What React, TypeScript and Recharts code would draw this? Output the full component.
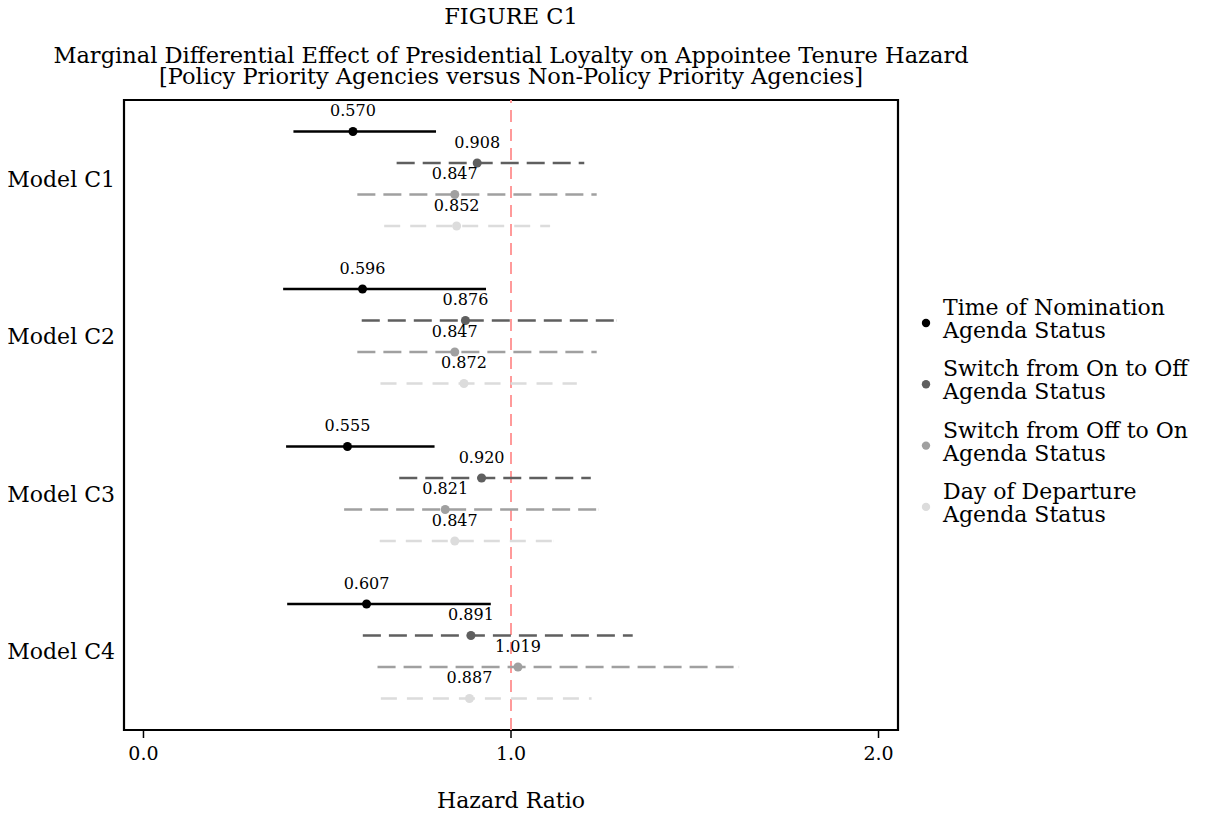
import React from "react";
import {
  ScatterChart,
  Scatter,
  XAxis,
  YAxis,
  ErrorBar,
  ReferenceLine,
  ReferenceArea,
  Legend,
  Label,
} from "recharts";

// ---------- data ----------
const models = ["Model C1", "Model C2", "Model C3", "Model C4"];

const seriesNames = [
  "Time of Nomination\nAgenda Status",
  "Switch from On to Off\nAgenda Status",
  "Switch from Off to On\nAgenda Status",
  "Day of Departure\nAgenda Status",
];

const nominationEst = [0.57, 0.596, 0.555, 0.607];
const nominationLow = [0.408, 0.38, 0.388, 0.391];
const nominationHigh = [0.796, 0.932, 0.792, 0.945];

const onToOffEst = [0.908, 0.876, 0.92, 0.891];
const onToOffLow = [0.689, 0.594, 0.696, 0.597];
const onToOffHigh = [1.199, 1.288, 1.217, 1.331];

const offToOnEst = [0.847, 0.847, 0.821, 1.019];
const offToOnLow = [0.582, 0.582, 0.546, 0.637];
const offToOnHigh = [1.233, 1.233, 1.237, 1.62];

const departureEst = [0.852, 0.872, 0.847, 0.887];
const departureLow = [0.655, 0.645, 0.643, 0.646];
const departureHigh = [1.106, 1.179, 1.115, 1.219];

const xTicks = [0, 1, 2];
const xTickLabels = ["0.0", "1.0", "2.0"];
const referenceValue = 1;

const titleLines = [
  "FIGURE C1",
  "Marginal Differential Effect of Presidential Loyalty on Appointee Tenure Hazard",
  "[Policy Priority Agencies versus Non-Policy Priority Agencies]",
];
const xAxisTitle = "Hazard Ratio";

// ---------- styling ----------
const FONT = "'DejaVu Serif', serif";
const colors = ["#000000", "#5f5f5f", "#a0a0a0", "#dcdcdc"];
const dashes = ["", "18 8", "18 8", "16 10"];
const X_DOMAIN: [number, number] = [-0.053, 2.053];
const Y_DOMAIN: [number, number] = [0, 20];
const ROWS_PER_MODEL = 5;

const allSeries = [
  { est: nominationEst, low: nominationLow, high: nominationHigh },
  { est: onToOffEst, low: onToOffLow, high: onToOffHigh },
  { est: offToOnEst, low: offToOnLow, high: offToOnHigh },
  { est: departureEst, low: departureLow, high: departureHigh },
];

const seriesData = allSeries.map((s, si) =>
  models.map((m, mi) => ({
    model: m,
    x: s.est[mi],
    y: mi * ROWS_PER_MODEL + si + 1,
    err: [s.est[mi] - s.low[mi], s.high[mi] - s.est[mi]],
  }))
);

const modelTicks = models.map((_, i) => i * ROWS_PER_MODEL + 2.5);

const makeShape = (color: string) => (props: any) => {
  const { cx, cy, payload } = props;
  if (cx == null || cy == null) return <g />;
  return (
    <g>
      <circle cx={cx} cy={cy} r={4.5} fill={color} />
      <text
        x={cx}
        y={cy - 15.5}
        textAnchor="middle"
        fontFamily={FONT}
        fontSize={16}
        fill="#000"
      >
        {payload.x.toFixed(3)}
      </text>
    </g>
  );
};

const LegendContent = (props: any) => {
  const payload = [...(props.payload || [])].sort(
    (a: any, b: any) => seriesNames.indexOf(a.value) - seriesNames.indexOf(b.value)
  );
  return (
    <svg width={306} height={270} style={{ overflow: "visible" }}>
      {payload.map((entry: any, i: number) => {
        const idx = seriesNames.indexOf(entry.value);
        const cy = 33 + i * 61.3;
        const lines = String(entry.value).split("\n");
        return (
          <g key={i}>
            <circle cx={26} cy={cy} r={4.2} fill={colors[idx >= 0 ? idx : i]} />
            <text x={43} y={cy - 8} fontFamily={FONT} fontSize={22} fill="#000">
              {lines[0]}
            </text>
            <text x={43} y={cy + 15} fontFamily={FONT} fontSize={22} fill="#000">
              {lines[1]}
            </text>
          </g>
        );
      })}
    </svg>
  );
};

export default function App() {
  return (
    <div style={{ position: "absolute", left: 0, top: 0, width: 1206, height: 814, background: "#fff" }}>
      <svg
        width={1206}
        height={100}
        style={{ position: "absolute", left: 0, top: 0 }}
      >
        <text x={511} y={24} textAnchor="middle" fontFamily={FONT} fontSize={22.5} fill="#000">
          {titleLines[0]}
        </text>
        <text x={511} y={63} textAnchor="middle" fontFamily={FONT} fontSize={22.5} fill="#000">
          {titleLines[1]}
        </text>
        <text x={511} y={84} textAnchor="middle" fontFamily={FONT} fontSize={22.5} fill="#000">
          {titleLines[2]}
        </text>
      </svg>
      <ScatterChart
        width={1206}
        height={814}
        margin={{ top: 100, right: 308, bottom: 0, left: 0 }}
        style={{ fontFamily: FONT }}
      >
        <XAxis
          type="number"
          dataKey="x"
          domain={X_DOMAIN}
          allowDataOverflow
          ticks={xTicks}
          tickFormatter={(v: number, i: number) => xTickLabels[i]}
          height={84}
          axisLine={false}
          tickLine={{ stroke: "#000", strokeWidth: 1.5 }}
          tickSize={8}
          tickMargin={9}
          tick={{ fill: "#000", fontSize: 19, fontFamily: FONT }}
          interval={0}
        >
          <Label
            value={xAxisTitle}
            position="insideBottom"
            offset={6}
            style={{ fill: "#000", fontSize: 22, fontFamily: FONT }}
          />
        </XAxis>
        <YAxis
          type="number"
          dataKey="y"
          domain={Y_DOMAIN}
          allowDataOverflow
          reversed
          ticks={modelTicks}
          tickFormatter={(v: number, i: number) => models[i]}
          width={124}
          axisLine={false}
          tickLine={false}
          tickSize={0}
          tickMargin={9}
          tick={{ fill: "#000", fontSize: 22, fontFamily: FONT }}
          interval={0}
        />
        <ReferenceLine
          x={referenceValue}
          stroke="#ff9a9a"
          strokeWidth={2}
          strokeDasharray="12 7"
        />
        {seriesData.map((data, si) => (
          <Scatter
            key={si}
            name={seriesNames[si]}
            data={data}
            fill={colors[si]}
            isAnimationActive={false}
            shape={makeShape(colors[si])}
          >
            <ErrorBar
              dataKey="err"
              direction="x"
              width={0}
              stroke={colors[si]}
              strokeWidth={2.5}
              strokeDasharray={dashes[si] || undefined}
              isAnimationActive={false}
            />
          </Scatter>
        ))}
        <ReferenceArea
          x1={X_DOMAIN[0]}
          x2={X_DOMAIN[1]}
          y1={Y_DOMAIN[0]}
          y2={Y_DOMAIN[1]}
          fill="none"
          fillOpacity={0}
          stroke="#000"
          strokeWidth={2.2}
          ifOverflow="visible"
        />
        <Legend
          layout="vertical"
          align="center"
          verticalAlign="middle"
          content={<LegendContent />}
          wrapperStyle={{ position: "absolute", left: 900, top: 290, width: 306, height: 270 }}
        />
      </ScatterChart>
    </div>
  );
}
